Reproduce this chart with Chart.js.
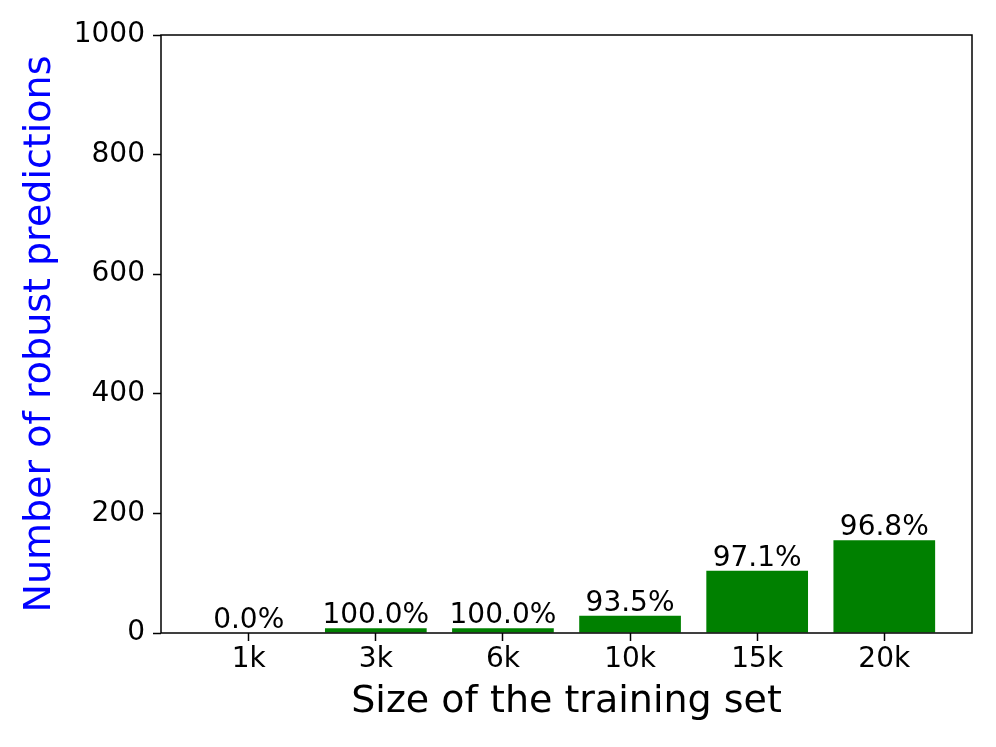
<!DOCTYPE html>
<html>
<head>
<meta charset="utf-8">
<script src="https://cdn.jsdelivr.net/npm/chart.js@4.4.1/dist/chart.umd.min.js"></script>
<style>
  html, body { margin: 0; padding: 0; background: #fff; }
  #wrap { width: 996px; height: 747px; }
</style>
</head>
<body>
<div id="wrap"><canvas id="robustChart" width="996" height="747"></canvas></div>
<script>
// training set sizes and number of robust predictions
const A_sizeLabels = ["1k", "3k", "6k", "10k", "15k", "20k"];
const A_robustCounts = [0, 8, 8, 29, 104, 155];
const A_robustRates = ["0.0%", "100.0%", "100.0%", "93.5%", "97.1%", "96.8%"];
const A_yTicks = [0, 200, 400, 600, 800, 1000];

const S_font = "'DejaVu Sans', 'Liberation Sans', sans-serif";

// box round the plot area, like matplotlib spines
const frameBox = {
    id: "frameBox",
    afterDraw(chart) {
        const a = chart.chartArea;
        const ctx = chart.ctx;
        ctx.save();
        ctx.strokeStyle = "#000";
        ctx.lineWidth = 1.5;
        ctx.strokeRect(a.left, a.top, a.right - a.left, a.bottom - a.top);
        ctx.restore();
    }
};

// percentage text above each bar
const barText = {
    id: "barText",
    afterDatasetsDraw(chart) {
        const ctx = chart.ctx;
        const meta = chart.getDatasetMeta(0);
        ctx.save();
        ctx.font = "28px " + S_font;
        ctx.fillStyle = "#000";
        ctx.textAlign = "center";
        ctx.textBaseline = "alphabetic";
        meta.data.forEach((bar, i) => {
            ctx.fillText(A_robustRates[i], bar.x, bar.y - 5);
        });
        ctx.restore();
    }
};

new Chart("robustChart", {
    type: "bar",
    data: {
        datasets: [{
            data: A_robustCounts.map((v, i) => ({ x: i, y: v })),
            backgroundColor: "#008000",
            borderWidth: 0,
            categoryPercentage: 1.0,
            barPercentage: 0.8
        }]
    },
    options: {
        responsive: false,
        animation: false,
        devicePixelRatio: 1,
        layout: { padding: { top: 35, right: 24, left: 0, bottom: 0 } },
        plugins: {
            legend: { display: false },
            tooltip: { enabled: false }
        },
        scales: {
            x: {
                type: "linear",
                offset: false,
                min: -0.69,
                max: 5.69,
                afterBuildTicks(scale) {
                    scale.ticks = A_sizeLabels.map((_, i) => ({ value: i }));
                },
                afterFit(scale) { scale.height = 114; },
                ticks: {
                    callback: (v) => A_sizeLabels[v],
                    font: { family: S_font, size: 28 },
                    color: "#000",
                    padding: 2,
                    maxRotation: 0,
                    autoSkip: false
                },
                grid: { drawOnChartArea: false, offset: false, tickLength: 8, tickWidth: 1.5, color: "#000" },
                border: { display: false },
                title: {
                    display: true,
                    text: "Size of the training set",
                    font: { family: S_font, size: 38 },
                    color: "#000",
                    padding: { top: 0, bottom: 22 }
                }
            },
            y: {
                min: 0,
                max: 1000,
                afterBuildTicks(scale) {
                    scale.ticks = A_yTicks.map((v) => ({ value: v }));
                },
                afterFit(scale) { scale.width = 161; },
                ticks: {
                    callback: (v) => String(v),
                    font: { family: S_font, size: 28 },
                    color: "#000",
                    padding: 8
                },
                grid: { drawOnChartArea: false, tickLength: 8, tickWidth: 1.5, color: "#000" },
                border: { display: false },
                title: {
                    display: true,
                    text: "Number of robust predictions",
                    font: { family: S_font, size: 38 },
                    color: "#0000FF",
                    padding: { top: 17, bottom: 0 }
                }
            }
        }
    },
    plugins: [frameBox, barText]
});
</script>
</body>
</html>
